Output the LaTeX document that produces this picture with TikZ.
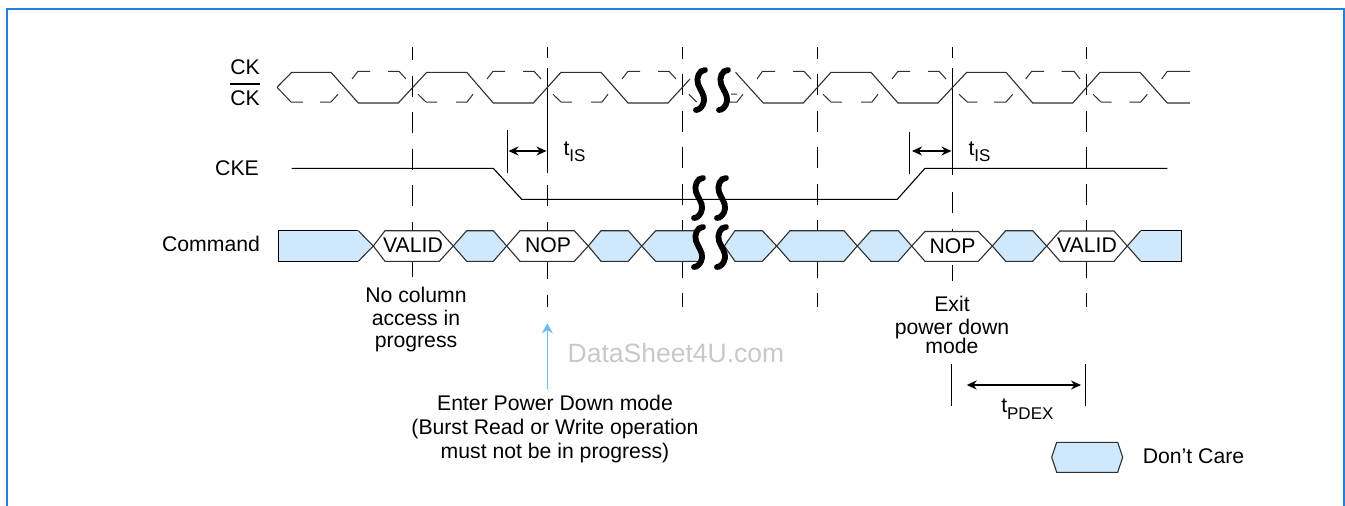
\documentclass[tikz,border=0pt]{standalone}
\usepackage{fontspec}
\setmainfont{Liberation Sans}
\usetikzlibrary{arrows.meta}
\definecolor{FrameBlue}{HTML}{1E82DC}
\definecolor{DontCare}{HTML}{CFE8FC}
\definecolor{EdgeGray}{HTML}{303030}
\definecolor{EnterBlue}{HTML}{6CBBFF}
\definecolor{MarkGray}{HTML}{C8C8C8}
\newcommand{\SubT}[1]{t\raisebox{-0.3em}{\fontsize{17}{18}\selectfont #1}}
\newcommand{\BreakMark}[2]{\draw[black, line width=5.8pt, line cap=round, shift={(#1,#2)}] (5,-20) .. controls (-1,-20) and (-4,-12) .. (-2,-6) .. controls (0,0) and (5,5) .. (4,11) .. controls (3,17) and (-1,20) .. (-4,20);}

\begin{document}
\begin{tikzpicture}[x=1pt, y=-1pt, line width=1.1pt,
    Label/.style={font=\fontsize{21.2}{22.5}\selectfont, inner sep=0pt, align=center},
    GridDash/.style={black, line width=1pt, dash pattern=on 21pt off 15.5pt},
    GridLine/.style={black, line width=1pt},
    ClockDash/.style={EdgeGray, line width=1pt},
    BusCare/.style={fill=DontCare, draw=EdgeGray},
    BusValid/.style={fill=white, draw=EdgeGray},
    Span/.style={black, line width=1.2pt, {Stealth[length=10pt,width=9pt]}-{Stealth[length=10pt,width=9pt]}}]
    \useasboundingbox (0,0) rectangle (1345,506);

    % =========================================
    % 1. 外框：底边开口
    % =========================================
    \draw[FrameBlue, line width=2.2pt] (7,506) -- (7,9) -- (1344,9) -- (1344,506);

    % =========================================
    % 2. 竖直虚线
    % =========================================
    \draw[GridDash, dash phase=8pt] (412,47) -- (412,277);
    \draw[GridLine] (547,47) -- (547,58);
    \draw[GridLine] (547,68) -- (547,173);
    \draw[GridDash] (547,185) -- (547,307);
    \draw[GridDash, dash phase=9.5pt] (682,47) -- (682,307);
    \draw[GridDash, dash phase=9.5pt] (817,47) -- (817,307);
    \draw[GridLine] (952,47) -- (952,58);
    \draw[GridLine] (952,68) -- (952,175);
    \draw[GridDash] (952,192) -- (952,281);
    \draw[GridDash, dash phase=9.5pt] (1086,47) -- (1086,307);

    % =========================================
    % 3. 时钟 CK 与 CKE
    % =========================================
    \draw[EdgeGray] (277,87.3) -- (291.7,72.3) -- (331,72.3) -- (358.3,103) -- (398.3,103) -- (426.7,72.3) -- (466.7,72.3) -- (493.3,103) -- (533.3,103) -- (561,72.3) -- (601,72.3) -- (628,103) -- (668,103) -- (690,79);
    \draw[EdgeGray] (735.5,72.3) -- (763.3,103) -- (803.3,103) -- (831,72.3) -- (871,72.3) -- (898,103) -- (938,103) -- (966.7,72.3) -- (1006,72.3) -- (1032.7,103) -- (1072.7,103) -- (1100,72.3) -- (1140,72.3) -- (1167.3,103) -- (1190,103);

    % 反相时钟的断续线
    \draw[ClockDash] (277,87.3) -- (291,102) -- (303,102) (320,102) -- (331,102) -- (338,94.3) (352,79) -- (358,71.3) -- (370,71.3) (388,71.3) -- (399,71.3) -- (406,79);
    \draw[ClockDash] (418,94.3) -- (426,102) -- (437,102) (456,102) -- (467,102) -- (473,94.3) (487,79) -- (493,71.3) -- (505,71.3) (523,71.3) -- (534,71.3) -- (541,79);
    \draw[ClockDash] (553,94.3) -- (561,102) -- (572,102) (591,102) -- (602,102) -- (608,94.3) (622,79) -- (628,71.3) -- (640,71.3) (658,71.3) -- (669,71.3) -- (676,79);
    \draw[ClockDash] (689,94.3) -- (696.7,102) (726,102) -- (737,102) -- (743,94.3) (731,94) -- (737,94) (757,79) -- (762.5,71.3) -- (775,71.3) (793,71.3) -- (804,71.3) -- (811,79);
    \draw[ClockDash] (823,94.3) -- (831,102) -- (842,102) (861,102) -- (872,102) -- (878,94.3) (892,79) -- (898,71.3) -- (910,71.3) (928,71.3) -- (939,71.3) -- (946,79);
    \draw[ClockDash] (959,94.3) -- (967.3,102) -- (977.3,102) (994,102) -- (1006,102) -- (1012.7,94.3) (1025.7,79) -- (1031.7,71.3) -- (1044,71.3) (1061.7,71.3) -- (1074,71.3) -- (1080,79);
    \draw[ClockDash] (1093,94.3) -- (1101,102) -- (1111.7,102) (1129.3,102) -- (1140.7,102) -- (1147.3,94.3) (1161.7,79) -- (1167.3,71.3) -- (1190,71.3);

    % CKE
    \draw[black] (291.7,168.3) -- (493.3,168.3) -- (521.7,199.3) -- (897.3,199.3) -- (925,168.3) -- (1167.3,168.3);

    % =========================================
    % 4. Command 总线
    % =========================================
    \fill[DontCare] (278.3,230.7) -- (358.3,230.7) -- (373.3,246) -- (358.3,261.3) -- (278.3,261.3) -- cycle;
    \draw[black] (358.3,261.3) -- (278.3,261.3) -- (278.3,230.7) -- (358.3,230.7);
    \draw[EdgeGray] (358.3,230.7) -- (373.3,246) -- (358.3,261.3);
    \draw[BusValid] (373.3,246) -- (385,230.7) -- (439.3,230.7) -- (453.3,246) -- (439.3,261.3) -- (385,261.3) -- cycle;
    \draw[BusCare] (453.3,246) -- (466.7,230.7) -- (493.3,230.7) -- (506.7,246) -- (493.3,261.3) -- (466.7,261.3) -- cycle;
    \draw[BusValid] (506.7,246) -- (520,230.7) -- (574.3,230.7) -- (588.3,246) -- (574.3,261.3) -- (520,261.3) -- cycle;
    \draw[BusCare] (588.3,246) -- (601,230.7) -- (628.3,230.7) -- (641.7,246) -- (628.3,261.3) -- (601,261.3) -- cycle;
    \fill[DontCare] (641.7,246) -- (655.7,230.7) -- (698,230.7) -- (698,261.3) -- (655.7,261.3) -- cycle;
    \draw[EdgeGray] (698,230.7) -- (655.7,230.7) -- (641.7,246) -- (655.7,261.3) -- (698,261.3);
    \draw[BusCare] (724.3,246) -- (735,230.7) -- (762.3,230.7) -- (776.7,246) -- (762.3,261.3) -- (735,261.3) -- cycle;
    \draw[BusCare] (776.7,246) -- (790,230.7) -- (844,230.7) -- (857.3,246) -- (844,261.3) -- (790,261.3) -- cycle;
    \draw[BusCare] (857.3,246) -- (871,230.7) -- (898.3,230.7) -- (911.7,246) -- (898.3,261.3) -- (871,261.3) -- cycle;
    \draw[BusValid] (911.7,246) -- (925,231.5) -- (978.3,231.5) -- (992.3,246) -- (978.3,261.3) -- (925,261.3) -- cycle;
    \draw[BusCare] (992.3,246) -- (1005.7,230.7) -- (1032.7,230.7) -- (1046.7,246) -- (1032.7,261.3) -- (1005.7,261.3) -- cycle;
    \draw[BusValid] (1046.7,246) -- (1060,231) -- (1114,231) -- (1127.3,246) -- (1114,261.3) -- (1060,261.3) -- cycle;
    \fill[DontCare] (1127.3,246) -- (1140.7,230.7) -- (1181.7,230.7) -- (1181.7,261.3) -- (1140.7,261.3) -- cycle;
    \draw[EdgeGray] (1140.7,230.7) -- (1127.3,246) -- (1140.7,261.3);
    \draw[black] (1140.7,230.7) -- (1181.7,230.7) -- (1181.7,261.3) -- (1140.7,261.3);

    % =========================================
    % 5. 断点符号
    % =========================================
    \BreakMark{700}{90}
    \BreakMark{723}{90}
    \BreakMark{698}{198}
    \BreakMark{721}{198}
    \BreakMark{698}{247}
    \BreakMark{721}{247}

    % =========================================
    % 6. 时间标注
    % =========================================
    \draw[GridLine] (507.3,130) -- (507.3,172.7);
    \coordinate (IsLeftA) at (508.5,151);
    \coordinate (IsLeftB) at (546.5,151);
    \draw[Span] (IsLeftA) -- (IsLeftB);
    \node[Label, anchor=base west] (TisLeft) at (563,155) {\SubT{IS}};

    \draw[GridLine] (909.3,131.7) -- (909.3,174);
    \coordinate (IsRightA) at (912,151);
    \coordinate (IsRightB) at (951.5,151);
    \draw[Span] (IsRightA) -- (IsRightB);
    \node[Label, anchor=base west] (TisRight) at (968,155) {\SubT{IS}};

    \draw[GridLine] (951.7,364) -- (951.7,406);
    \draw[GridLine] (1085.3,364) -- (1085.3,406);
    \coordinate (PdexA) at (966.7,385);
    \coordinate (PdexB) at (1081,385);
    \draw[Span] (PdexA) -- (PdexB);
    \node[Label, anchor=base west] (Tpdex) at (1000.7,412.7) {\SubT{PDEX}};

    % =========================================
    % 7. 文字内容
    % =========================================
    \node[Label] (CkTop) at (245,67) {CK};
    \draw[black, line width=2pt] (230,84.3) -- (260,84.3);
    \node[Label] (CkBar) at (245,98.7) {CK};
    \node[Label] (CkeName) at (237,168.5) {CKE};
    \node[Label] (CmdName) at (211,244) {Command};

    \node[Label] (ValidA) at (413,245.5) {VALID};
    \node[Label] (NopA) at (548,245.5) {NOP};
    \node[Label] (NopB) at (952.5,246.5) {NOP};
    \node[Label] (ValidB) at (1087,245.5) {VALID};

    \node[Label] (NoAccess) at (416,320) {No column\\access in\\progress};
    \node[Label] (ExitDown) at (952,325) {Exit\\[0.5pt]power down\\[-3.5pt]mode};

    \node[Label, text=MarkGray, font=\fontsize{26.5}{28}\selectfont, anchor=base] (Watermark) at (676,362.7) {DataSheet4U.com};

    \node[Label, font=\fontsize{21.2}{24}\selectfont] (EnterDown) at (555,429.5) {Enter Power Down mode\\(Burst Read or Write operation\\must not be in progress)};
    \coordinate (EnterTip) at (547.3,323.3);
    \coordinate (EnterTail) at (547.3,389.3);
    \draw[EnterBlue, line width=1.1pt, -{Stealth[length=10pt,width=11pt]}] (EnterTail) -- (EnterTip);

    % =========================================
    % 8. 图例
    % =========================================
    \draw[BusCare] (1051.7,457.3) -- (1056.7,442.3) -- (1117.7,442.3) -- (1122.7,457.3) -- (1117.7,472.3) -- (1056.7,472.3) -- cycle;
    \node[Label] (CareName) at (1193.5,456.5) {Don’t Care};

\end{tikzpicture}
\end{document}
